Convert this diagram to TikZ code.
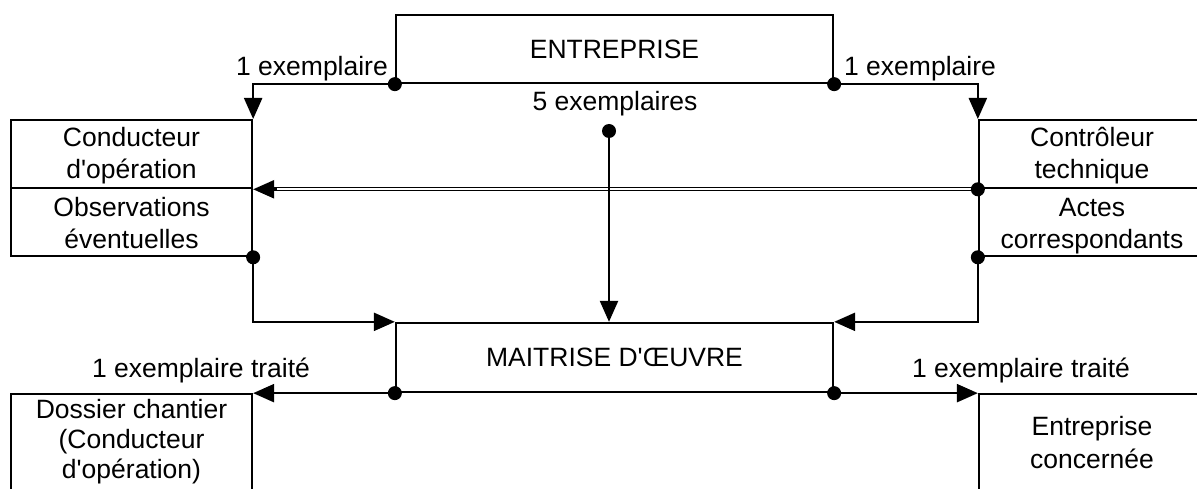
\documentclass[tikz,border=0pt]{standalone}
\usepackage{fontspec}
\setmainfont{Liberation Sans}[Ligatures=TeXOff]
\usetikzlibrary{arrows.meta}
\begin{document}
\begin{tikzpicture}[x=1pt,y=-1pt,
  line width=2.3pt,
  txt/.style={font=\fontsize{26.5}{31}\selectfont},
  box/.style={draw, line width=2.3pt, inner sep=0pt},
  lbl/.style={inner sep=0pt, txt, anchor=base},
  arr/.style={-{Triangle[length=21pt,width=18pt]}},
  dbl/.style={double, double distance=1.6pt, line width=1.3pt}]
\useasboundingbox (0,0) rectangle (1197,489);
\clip (0,0) rectangle (1197,489);
% boxes
\node[box, minimum width=437pt, minimum height=68pt, txt] (ent) at (614.5,49) {ENTREPRISE};
\node[box, minimum width=437pt, minimum height=69pt, txt] (moe) at (614.5,357.5) {MAITRISE D'ŒUVRE};
\node[box, minimum width=241pt, minimum height=68pt, anchor=north] (cond) at (131.5,119) {};
\node[box, minimum width=241pt, minimum height=68pt, anchor=north] (obs) at (131.5,187) {};
\node[box, minimum width=226pt, minimum height=68pt, anchor=north] (ctrl) at (1092,119) {};
\node[box, minimum width=226pt, minimum height=68pt, anchor=north] (actes) at (1092,187) {};
\node[box, minimum width=241pt, minimum height=110pt, anchor=north] (dos) at (131.5,392.5) {};
\node[box, minimum width=226pt, minimum height=110pt, anchor=north] (entc) at (1092,392.5) {};
% box texts
\node[lbl] (t1) at (cond.center |- 0,147) {Conducteur};
\node[lbl] (t2) at (cond.center |- 0,179) {d'opération};
\node[lbl] (t3) at (obs.center |- 0,217) {Observations};
\node[lbl] (t4) at (obs.center |- 0,248) {éventuelles};
\node[lbl] (t5) at (ctrl.center |- 0,147) {Contrôleur};
\node[lbl] (t6) at (ctrl.center |- 0,179) {technique};
\node[lbl] (t7) at (actes.center |- 0,217) {Actes};
\node[lbl] (t8) at (actes.center |- 0,248) {correspondants};
\node[lbl] (t9) at (dos.center |- 0,418) {Dossier chantier};
\node[lbl] (t10) at (dos.center |- 0,448) {(Conducteur};
\node[lbl] (t11) at (dos.center |- 0,478) {d'opération)};
\node[lbl] (t12) at (entc.center |- 0,435) {Entreprise};
\node[lbl] (t13) at (entc.center |- 0,468) {concernée};
% labels
\node[lbl, anchor=base east] (l1) at (389,76) {1 exemplaire};
\node[lbl, anchor=base west] (l2) at (843,76) {1 exemplaire};
\node[lbl] (l5) at (615,111) {5 exemplaires};
\node[lbl] (l3) at (201,377) {1 exemplaire traité};
\node[lbl] (l4) at (1021,377) {1 exemplaire traité};
\coordinate (cinq) at (609,131);
% connectors
\draw[arr] (ent.south west) -| (cond.north east);
\draw[arr] (ent.south east) -| (ctrl.north west);
\draw[dbl, shorten >=14pt] (ctrl.south west) -- (cond.south east);
\draw[arr] ([xshift=24pt]cond.south east) -- (cond.south east);
\draw[arr] (cinq) -- (cinq |- moe.north);
\draw[arr] (obs.south east) |- (moe.north west);
\draw[arr] (actes.south west) |- (moe.north east);
\draw[arr] (moe.south west) -- (moe.south west -| dos.east);
\draw[arr] (moe.south east) -- (moe.south east -| entc.west);
% dots
\foreach \p in {ent.south west, ent.south east, cinq, ctrl.south west, obs.south east, actes.south west, moe.south west, moe.south east}
  \fill (\p) circle (7pt);
\end{tikzpicture}
\end{document}
